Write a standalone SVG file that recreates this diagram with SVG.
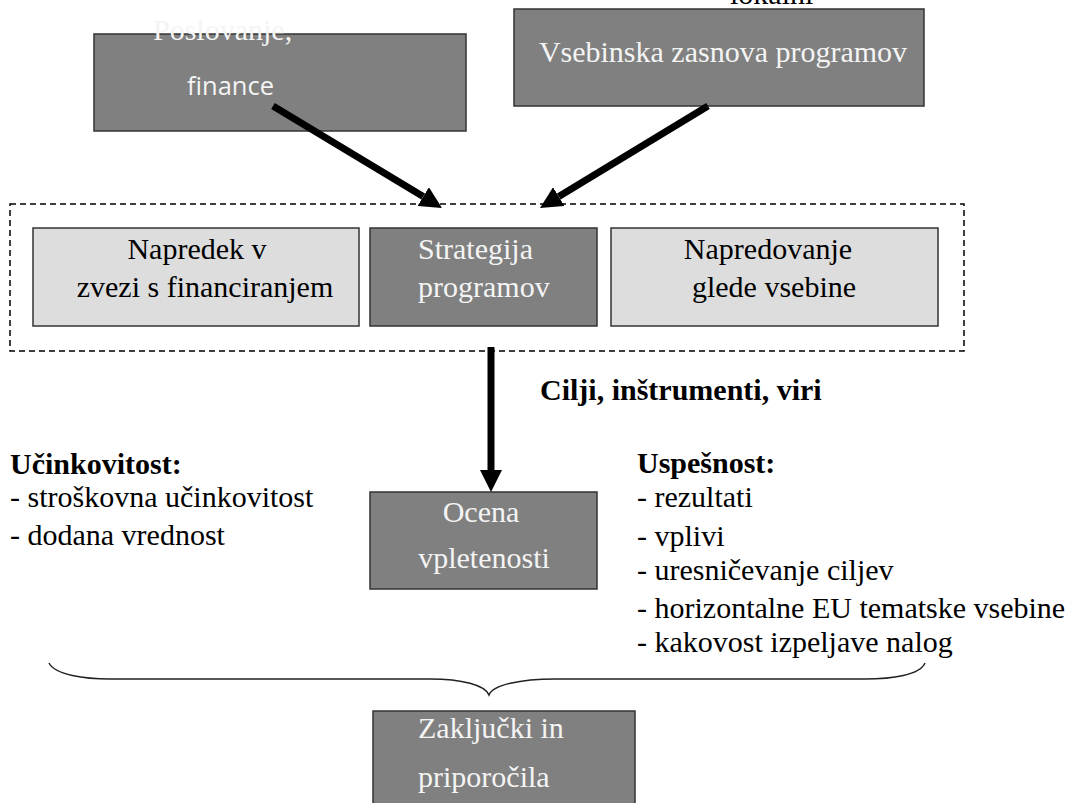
<svg xmlns="http://www.w3.org/2000/svg" width="1067" height="803" viewBox="0 0 1067 803">
<style>
.dark{fill:#808080;stroke:#333;stroke-width:1.5}
.light{fill:#dddddd;stroke:#333;stroke-width:1.5}
.t{font-family:"Liberation Serif","Times New Roman",serif;font-size:30px;fill:#000}
.w{fill:#f4f4f4}
.b{font-weight:bold}
.c{text-anchor:middle}
.arrow{stroke:#000;stroke-width:7;fill:none;marker-end:url(#ah)}
</style>
<defs>
<marker id="ah" viewBox="0 0 10 10" refX="0" refY="5" markerUnits="userSpaceOnUse" markerWidth="22" markerHeight="22" orient="auto">
<path d="M0,0 L10,5 L0,10 z" fill="#000"/>
</marker>
</defs>
<rect width="1067" height="803" fill="#fff"/>
<text class="t" x="730" y="4">lokalni</text>
<g id="n-poslovanje">
<rect class="dark" x="94" y="34" width="372" height="97"/>
<text class="t w" x="153" y="40">Poslovanje,</text>
<text x="187" y="95" font-family="Open Sans, Liberation Sans, sans-serif" font-size="25.5" fill="#f4f4f4">finance</text>
</g>
<g id="n-vsebinska">
<rect class="dark" x="514" y="9" width="410" height="97"/>
<text class="t w c" x="723" y="62">Vsebinska zasnova programov</text>
</g>
<g id="n-group">
<rect x="10" y="204" width="954" height="147" fill="none" stroke="#000" stroke-width="1.5" stroke-dasharray="6 4"/>
</g>
<g id="n-napredek">
<rect class="light" x="33" y="228" width="326" height="98"/>
<text class="t c" x="197" y="259">Napredek v</text>
<text class="t c" x="205" y="297">zvezi s financiranjem</text>
</g>
<g id="n-strategija">
<rect class="dark" x="370" y="228" width="227" height="98"/>
<text class="t w" x="418" y="259">Strategija</text>
<text class="t w" x="418" y="297">programov</text>
</g>
<g id="n-napredovanje">
<rect class="light" x="611" y="228" width="327" height="98"/>
<text class="t c" x="768" y="259">Napredovanje</text>
<text class="t c" x="774" y="297">glede vsebine</text>
</g>
<g id="n-ocena">
<rect class="dark" x="370" y="492" width="227" height="97"/>
<text class="t w c" x="481" y="522">Ocena</text>
<text class="t w c" x="484" y="568">vpletenosti</text>
</g>
<g id="n-zakljucki">
<rect class="dark" x="373" y="711" width="262" height="100"/>
<text class="t w" x="418" y="738">Zaključki in</text>
<text class="t w" x="418" y="787">priporočila</text>
</g>
<g id="labels">
<text class="t b" x="540" y="400">Cilji, inštrumenti, viri</text>
<text class="t b" x="10" y="474">Učinkovitost:</text>
<text class="t" x="10" y="507">- stroškovna učinkovitost</text>
<text class="t" x="10" y="545">- dodana vrednost</text>
<text class="t b" x="637" y="473">Uspešnost:</text>
<text class="t" x="637" y="507">- rezultati</text>
<text class="t" x="637" y="546">- vplivi</text>
<text class="t" x="637" y="580">- uresničevanje ciljev</text>
<text class="t" x="637" y="618">- horizontalne EU tematske vsebine</text>
<text class="t" x="637" y="652">- kakovost izpeljave nalog</text>
</g>
<g id="connectors">
<line class="arrow" x1="273" y1="106" x2="423.2" y2="196.6"/>
<line class="arrow" x1="708" y1="106" x2="558.8" y2="196.6"/>
<line class="arrow" x1="491" y1="347" x2="491" y2="470"/>
<path d="M49,663 C55,675 85,679 110,679 L430,679 C462,679 485,685 489,695 C493,685 520,679 555,679 L865,679 C892,679 920,675 925,663" fill="none" stroke="#222" stroke-width="1.5"/>
</g>
</svg>
